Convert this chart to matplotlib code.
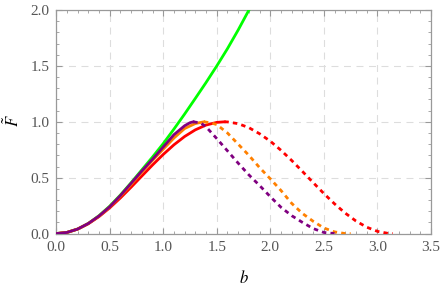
import numpy as np
import matplotlib.pyplot as plt
from matplotlib.ticker import MultipleLocator

# values
b_green = [0, 0.1, 0.2, 0.3, 0.4, 0.5, 0.6, 0.7, 0.8, 0.9, 1.0, 1.1, 1.2, 1.3, 1.4, 1.5, 1.6, 1.7, 1.8, 1.85]
F_green = [0, 0.01, 0.04, 0.09, 0.16, 0.245, 0.345, 0.455, 0.57, 0.685, 0.805, 0.935, 1.07, 1.21, 1.352, 1.5, 1.655, 1.822, 2.0, 2.09]

b_red = [0, 0.1, 0.2, 0.3, 0.4, 0.5, 0.6, 0.7, 0.8, 0.9, 1.0, 1.1, 1.2, 1.3, 1.4, 1.5, 1.5708]
F_red = [0, 0.010, 0.0395, 0.0873, 0.1516, 0.2298, 0.3188, 0.4150, 0.5146, 0.6136, 0.7081, 0.7943, 0.8687, 0.9284, 0.9711, 0.9950, 1.0]
b_red_d = [1.5708, 1.6, 1.7, 1.8, 1.9, 2.0, 2.1, 2.2, 2.3, 2.4, 2.5, 2.6, 2.7, 2.8, 2.9, 3.0, 3.1, 3.1416]
F_red_d = [1.0, 0.9991, 0.9834, 0.9477, 0.8931, 0.8268, 0.7451, 0.6537, 0.5561, 0.4563, 0.3582, 0.2658, 0.1827, 0.1122, 0.0572, 0.0199, 0.0017, 0.0]

b_orange = [0, 0.1, 0.2, 0.3, 0.4, 0.5, 0.6, 0.7, 0.8, 0.9, 1.0, 1.1, 1.2, 1.3, 1.38]
F_orange = [0, 0.01, 0.04, 0.09, 0.155, 0.238, 0.335, 0.44, 0.55, 0.655, 0.755, 0.855, 0.94, 0.985, 1.0]
b_orange_d = [1.38, 1.45, 1.5, 1.6, 1.7, 1.8, 1.9, 2.0, 2.1, 2.2, 2.3, 2.4, 2.5, 2.6, 2.7, 2.75]
F_orange_d = [1.0, 0.99, 0.975, 0.9, 0.8, 0.7, 0.59, 0.49, 0.385, 0.27, 0.18, 0.11, 0.05, 0.015, 0.0, 0.0]

b_purple = [0, 0.1, 0.2, 0.3, 0.4, 0.5, 0.6, 0.7, 0.8, 0.9, 1.0, 1.1, 1.2, 1.25, 1.28]
F_purple = [0, 0.01, 0.04, 0.09, 0.157, 0.24, 0.34, 0.45, 0.56, 0.665, 0.775, 0.885, 0.965, 0.992, 1.0]
b_purple_d = [1.28, 1.35, 1.4, 1.5, 1.6, 1.7, 1.8, 1.9, 2.0, 2.1, 2.2, 2.3, 2.4, 2.5, 2.6]
F_purple_d = [1.0, 0.99, 0.955, 0.85, 0.74, 0.63, 0.525, 0.43, 0.33, 0.235, 0.16, 0.10, 0.045, 0.01, 0.0]

plt.rcParams['font.family'] = ['Liberation Serif', 'DejaVu Serif']
plt.rcParams['mathtext.fontset'] = 'stix'
plt.rcParams['lines.scale_dashes'] = False

fig = plt.figure(figsize=(4.42, 2.88), dpi=100)
ax = fig.add_axes([0.127, 0.189, 0.848, 0.776])

lw = 2.0
dash = (0, (3.2, 3.0))
ax.plot(b_green, F_green, color=(0, 1, 0), lw=lw, zorder=3)
ax.plot(b_red, F_red, color=(1, 0, 0), lw=lw, zorder=4)
ax.plot(b_red_d, F_red_d, color=(1, 0, 0), lw=lw, linestyle=dash, zorder=4)
ax.plot(b_orange, F_orange, color=(1, 0.5, 0), lw=lw, zorder=5)
ax.plot(b_orange_d, F_orange_d, color=(1, 0.5, 0), lw=lw, linestyle=dash, zorder=5)
ax.plot(b_purple, F_purple, color=(0.5, 0, 0.5), lw=lw, zorder=6)
ax.plot(b_purple_d, F_purple_d, color=(0.5, 0, 0.5), lw=lw, linestyle=dash, zorder=6)

ax.set_xlim(0, 3.5)
ax.set_ylim(0, 2.0)
ax.xaxis.set_major_locator(MultipleLocator(0.5))
ax.xaxis.set_minor_locator(MultipleLocator(0.1))
ax.yaxis.set_major_locator(MultipleLocator(0.5))
ax.yaxis.set_minor_locator(MultipleLocator(0.1))
ax.xaxis.set_major_formatter(plt.FuncFormatter(lambda v, p: f"{v:.1f}"))
ax.yaxis.set_major_formatter(plt.FuncFormatter(lambda v, p: f"{v:.1f}"))

ax.grid(True, which='major', color='#dddddd', linestyle=(0, (5, 4)), lw=0.8)
ax.set_axisbelow(True)

for s in ax.spines.values():
    s.set_color('#999999')
    s.set_linewidth(0.9)
ax.tick_params(which='both', direction='in', top=True, right=True, color='#999999',
               labelcolor='#555555', labelsize=11)
ax.tick_params(which='major', length=4.5, width=0.8, pad=5)
ax.tick_params(which='minor', length=2.5, width=0.6)

ax.set_xlabel(r'$b$', fontsize=12)
ax.xaxis.set_label_coords(0.5, -0.165)
# rotated y label placed by hand so the tilde stays inside the figure
fig.text(13 / 442, 1 - 121 / 288, r'$\tilde{F}$', fontsize=12, rotation=90,
         ha='center', va='center')

fig.savefig('out.png', dpi=100)
